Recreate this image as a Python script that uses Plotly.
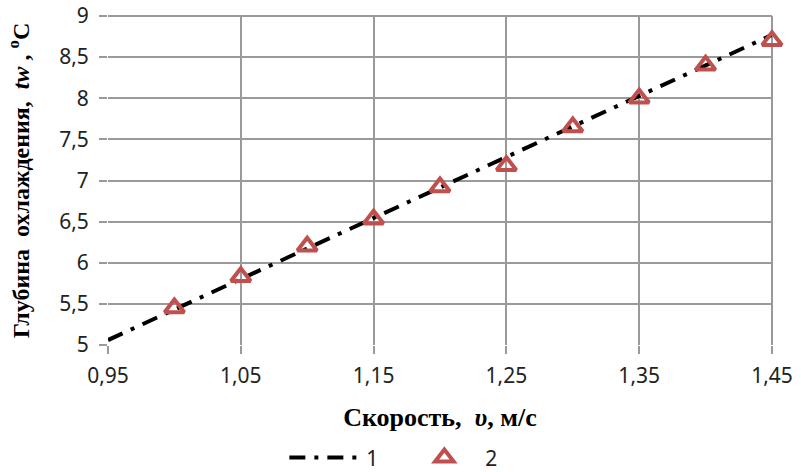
import plotly.graph_objects as go

speed = [1.00, 1.05, 1.10, 1.15, 1.20, 1.25, 1.30, 1.35, 1.40, 1.45]
depth = [5.45, 5.83, 6.20, 6.53, 6.92, 7.18, 7.65, 8.00, 8.40, 8.70]

fit_x = [0.95, 1.45]
fit_y = [5.06, 8.77]

x_ticks = [0.95, 1.05, 1.15, 1.25, 1.35, 1.45]
y_ticks = [5, 5.5, 6, 6.5, 7, 7.5, 8, 8.5, 9]

grid = "#9a9a9a"
red = "#C0504D"

fig = go.Figure()
fig.add_trace(go.Scatter(
    x=fit_x, y=fit_y, mode="lines", name="1",
    line=dict(color="black", width=4, dash="16px,9px,4px,9px"),
    cliponaxis=False,
))
fig.add_trace(go.Scatter(
    x=speed, y=depth, mode="markers", name="2",
    marker=dict(symbol="triangle-up-open", size=17, color=red,
                line=dict(color=red, width=4)),
    cliponaxis=False,
))

fig.update_layout(
    width=801, height=472,
    margin=dict(l=108, r=29, t=16, b=127, autoexpand=False),
    paper_bgcolor="white", plot_bgcolor="white",
    separators=", ",
    font=dict(family="Noto Sans", size=21, color="#222"),
    showlegend=True,
    legend=dict(orientation="h", x=0.355, xanchor="left", xref="container",
                y=0.03, yanchor="middle", yref="container",
                font=dict(family="Noto Sans", size=21, color="#222"),
                itemwidth=72, entrywidth=32, bgcolor="rgba(0,0,0,0)"),
    xaxis=dict(
        range=[0.95, 1.45], tickvals=x_ticks, tickformat=".2f",
        showgrid=True, gridcolor=grid, gridwidth=2,
        showline=False, zeroline=False, automargin=False,
        ticks="outside", ticklen=8, tickwidth=2, tickcolor=grid,
        ticklabelstandoff=4,
        title=dict(text="Скорость,  <i>υ</i>, м/с", standoff=19,
                   font=dict(family="Liberation Serif", size=26, color="black", weight="bold")),
    ),
    yaxis=dict(
        range=[5, 9], tickvals=y_ticks,
        showgrid=True, gridcolor=grid, gridwidth=2,
        showline=False, zeroline=False, automargin=False,
        ticks="outside", ticklen=8, tickwidth=2, tickcolor=grid,
        ticklabelstandoff=6,
        title=dict(text="Глубина  охлаждения,  <i>tw</i> , <sup>o</sup>C", standoff=22,
                   font=dict(family="Liberation Serif", size=24, color="black", weight="bold")),
    ),
)
fig.add_shape(type="line", xref="paper", yref="paper", x0=0, x1=1, y0=1, y1=1,
              line=dict(color=grid, width=2), layer="below")
fig.add_shape(type="line", xref="paper", yref="paper", x0=1, x1=1, y0=0, y1=1,
              line=dict(color=grid, width=2), layer="below")

fig.write_html("out.html")
